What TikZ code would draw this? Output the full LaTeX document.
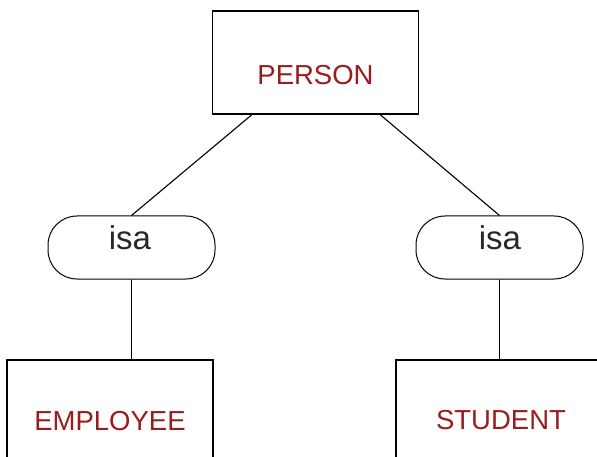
\documentclass[tikz,border=0pt]{standalone}
\usepackage{fontspec}
\setmainfont{Liberation Sans}
\usetikzlibrary{calc}
\definecolor{entred}{RGB}{155,28,28}
\definecolor{isagray}{RGB}{40,40,40}
\begin{document}
\begin{tikzpicture}[x=1pt,y=-1pt,
  entbox/.style={draw=black,line width=1.5pt,rectangle,minimum width=206pt,minimum height=103pt,inner sep=0pt},
  isabox/.style={draw=black,line width=1pt,rectangle,rounded corners=29pt,minimum width=167pt,minimum height=63pt,inner sep=0pt},
  enttext/.style={text=entred,font=\fontsize{27.5}{30}\selectfont,inner sep=0pt},
  isatext/.style={text=isagray,font=\fontsize{33}{36}\selectfont,inner sep=0pt},
  conn/.style={draw=black,line width=1.1pt}]
\clip (0,0) rectangle (597,457);
\fill[white] (0,0) rectangle (597,457);
% entities
\node[entbox] (person) at (315.5,62.5) {};
\node[enttext] (persontxt) at (315.5,75) {PERSON};
\node[entbox] (emp) at (110,411.5) {};
\node[enttext] (emptxt) at (110,421) {EMPLOYEE};
\node[entbox] (stu) at (499,411.5) {};
\node[enttext] (stutxt) at (501,420) {STUDENT};
% isa
\node[isabox] (isa1) at (131.5,247.5) {};
\node[isatext] (isa1txt) at (130,238) {isa};
\node[isabox] (isa2) at (499.5,247.5) {};
\node[isatext] (isa2txt) at (500,238) {isa};
% connectors
\draw[conn] ($(person.south west)!0.193!(person.south east)$) -- (isa1.north);
\draw[conn] ($(person.south west)!0.812!(person.south east)$) -- (isa2.north);
\draw[conn] (isa1.south) -- (isa1.south |- emp.north);
\draw[conn] (isa2.south) -- (isa2.south |- stu.north);
\end{tikzpicture}
\end{document}
